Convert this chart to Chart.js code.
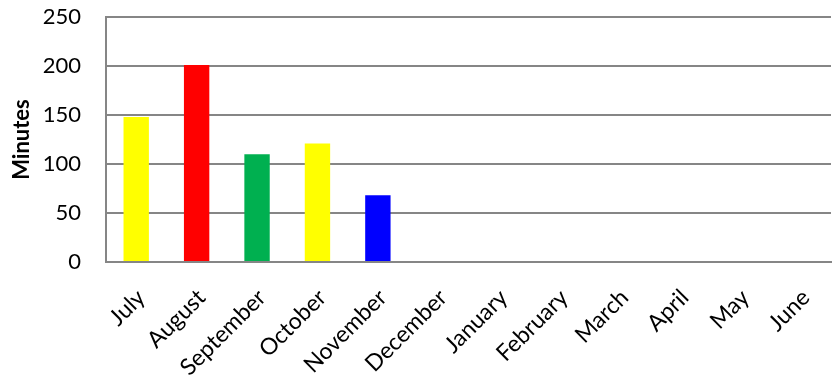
<!DOCTYPE html>
<html>
<head>
<meta charset="utf-8">
<script src="https://cdn.jsdelivr.net/npm/chart.js@4.4.0/dist/chart.umd.min.js"></script>
<style>
  html, body { margin: 0; padding: 0; background: #fff; }
  #wrap { width: 834px; height: 385px; }
</style>
</head>
<body>
<div id="wrap"><canvas id="chart"></canvas></div>
<script>
const months = ['July', 'August', 'September', 'October', 'November', 'December',
    'January', 'February', 'March', 'April', 'May', 'June'];
const minutes = [148, 201, 110, 121, 68, null, null, null, null, null, null, null];
const barColors = ['#ffff00', '#ff0000', '#00b050', '#ffff00', '#0000ff'];
const yTicks = [0, 50, 100, 150, 200, 250];

const gridGray = '#868686';
const font = 'Lato, "Open Sans", sans-serif';

new Chart(document.getElementById('chart'), {
    type: 'bar',
    data: {
        labels: months,
        datasets: [{
            label: 'Minutes',
            data: minutes,
            backgroundColor: barColors,
            borderWidth: 0,
            categoryPercentage: 1,
            barPercentage: 0.42
        }]
    },
    options: {
        responsive: true,
        maintainAspectRatio: false,
        animation: false,
        layout: { padding: { top: 17, right: 3, left: 0, bottom: 0 } },
        plugins: {
            legend: { display: false },
            tooltip: { enabled: false }
        },
        scales: {
            x: {
                grid: { display: false },
                border: { display: true, color: gridGray, width: 2 },
                ticks: {
                    color: '#000',
                    font: { family: font, size: 23 },
                    minRotation: 45,
                    maxRotation: 45,
                    padding: 14,
                    labelOffset: 5,
                    autoSkip: false
                },
                // fixed axis box so the plot area lines up with the picture
                afterFit: scale => {
                    scale.height = 123;
                    scale.paddingLeft = 0;
                    scale.paddingRight = 0;
                    scale.paddingTop = 0;
                    scale.paddingBottom = 0;
                }
            },
            y: {
                min: 0,
                max: 250,
                afterBuildTicks: scale => {
                    scale.ticks = yTicks.map(v => ({ value: v }));
                },
                grid: { color: gridGray, lineWidth: 2, drawTicks: false },
                border: { display: true, color: gridGray, width: 2 },
                ticks: {
                    color: '#000',
                    font: { family: font, size: 22 },
                    padding: 25
                },
                title: {
                    display: true,
                    text: 'Minutes',
                    color: '#000',
                    font: { family: font, size: 22, weight: 'bold' },
                    padding: { top: 9, bottom: 0 }
                },
                afterFit: scale => {
                    scale.width = 106;
                    scale.paddingTop = 0;
                    scale.paddingBottom = 0;
                }
            }
        }
    }
});
</script>
</body>
</html>
